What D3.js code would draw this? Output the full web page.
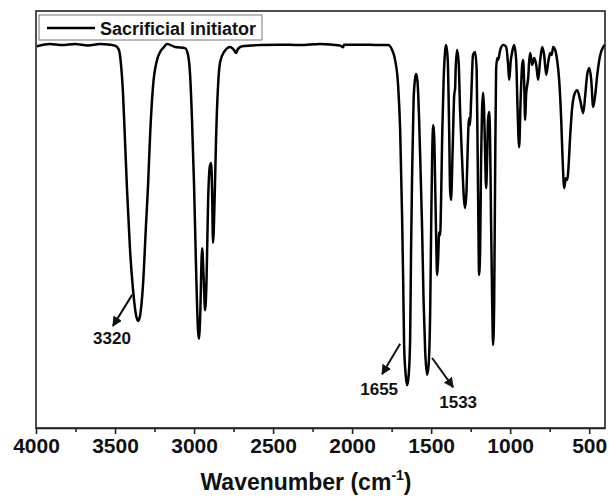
<!DOCTYPE html>
<html>
  <head>
    <meta charset="utf-8">
    <title>Sacrificial initiator FTIR</title>
    <script src="https://cdn.jsdelivr.net/npm/d3@7/dist/d3.min.js"></script>
    <style>
      body { margin: 0; background: #fff; }
      svg { display: block; font-family: "Liberation Sans", Arial, sans-serif; font-weight: bold; }
    </style>
  </head>
  <body>
    <svg id="chart" width="610" height="497"></svg>

    <script>
      // data (wavenumber cm-1, transmittance a.u.)
      const wavenumber = [3994, 3911, 3835, 3753, 3671, 3595, 3532, 3494, 3475, 3462, 3449, 3437, 3424, 3405, 3386, 3367, 3354, 3342, 3323, 3304, 3291, 3278, 3259, 3234, 3215, 3190, 3171, 3120, 3057, 3038, 3025, 3013, 3000, 2987, 2975, 2968, 2962, 2949, 2940, 2930, 2921, 2911, 2899, 2892, 2886, 2880, 2870, 2861, 2848, 2835, 2810, 2772, 2747, 2734, 2722, 2696, 2582, 2456, 2329, 2203, 2076, 2057, 2051, 1949, 1823, 1772, 1747, 1728, 1709, 1696, 1684, 1677, 1671, 1661, 1652, 1642, 1633, 1627, 1620, 1611, 1601, 1595, 1586, 1576, 1567, 1557, 1548, 1538, 1526, 1516, 1506, 1500, 1494, 1487, 1481, 1475, 1468, 1462, 1456, 1449, 1443, 1437, 1430, 1421, 1411, 1405, 1395, 1386, 1380, 1374, 1364, 1354, 1348, 1345, 1336, 1326, 1317, 1304, 1292, 1285, 1276, 1269, 1260, 1254, 1247, 1235, 1222, 1212, 1206, 1200, 1197, 1190, 1184, 1178, 1171, 1165, 1159, 1152, 1146, 1140, 1133, 1127, 1121, 1114, 1108, 1101, 1095, 1089, 1082, 1076, 1063, 1044, 1025, 1013, 1006, 997, 987, 975, 962, 953, 943, 934, 924, 918, 911, 905, 899, 892, 886, 880, 873, 861, 848, 835, 823, 810, 797, 785, 772, 759, 747, 737, 728, 715, 703, 690, 677, 668, 658, 649, 639, 633, 620, 608, 595, 576, 557, 538, 525, 513, 500, 487, 475, 462, 449, 430, 411, 400];
      const transmittance = [99.8, 100.4, 100.1, 100.4, 100.0, 100.4, 100.2, 99.8, 98.8, 94.9, 87.0, 75.3, 62.2, 46.5, 36.1, 29.5, 28.0, 29.3, 37.4, 53.1, 63.5, 76.6, 89.6, 96.2, 98.3, 99.6, 100.4, 99.6, 99.3, 97.5, 92.3, 80.5, 63.5, 41.3, 25.6, 23.3, 28.2, 47.0, 40.0, 30.8, 38.7, 59.6, 68.7, 69.3, 62.2, 48.4, 59.6, 75.3, 89.6, 95.7, 98.3, 99.6, 98.8, 98.0, 99.1, 99.8, 100.1, 100.2, 100.1, 100.4, 100.0, 99.5, 100.2, 100.2, 100.1, 100.1, 98.8, 96.2, 89.6, 77.9, 55.7, 38.7, 21.7, 13.9, 11.2, 13.9, 23.0, 46.5, 67.4, 85.7, 91.5, 92.5, 90.4, 80.5, 67.4, 51.8, 33.5, 20.4, 13.9, 16.5, 30.8, 51.8, 70.0, 79.2, 76.6, 64.8, 49.1, 40.0, 43.9, 51.2, 50.4, 59.6, 76.6, 91.0, 98.8, 100.1, 96.2, 77.9, 62.2, 59.6, 72.7, 87.0, 88.9, 93.6, 98.8, 95.7, 83.1, 70.0, 59.6, 57.5, 62.2, 72.7, 81.0, 79.2, 85.7, 97.5, 98.3, 93.6, 72.7, 49.1, 40.0, 46.5, 70.0, 83.1, 87.6, 83.1, 72.7, 62.7, 70.0, 80.5, 82.6, 75.3, 54.4, 33.5, 21.7, 33.5, 67.4, 93.6, 96.7, 96.2, 98.8, 100.1, 99.6, 94.9, 91.0, 95.7, 98.3, 100.1, 96.2, 83.1, 73.4, 85.7, 94.9, 96.2, 89.6, 80.5, 87.3, 89.6, 91.5, 95.7, 98.0, 94.9, 96.7, 94.9, 91.0, 96.2, 99.6, 97.5, 92.3, 95.7, 98.0, 97.5, 99.6, 98.8, 96.2, 91.0, 80.5, 70.0, 62.7, 65.3, 64.8, 66.9, 76.6, 83.6, 87.0, 88.3, 85.7, 82.3, 87.0, 92.3, 94.1, 91.0, 83.9, 87.0, 92.3, 97.5, 99.6, 100.1];

      // axis ticks
      const majorTicks = [4000, 3500, 3000, 2500, 2000, 1500, 1000, 500];
      const minorTicks = [3750, 3250, 2750, 2250, 1750, 1250, 750];

      // peak labels: text, arrow tail, arrow tip, text position
      const peakLabels = ["3320", "1655", "1533"];
      const arrowFrom = [[3392, 34.8], [1696, 22.0], [1494, 18.3]];
      const arrowTo = [[3513, 26.7], [1810, 14.1], [1361, 10.7]];
      const labelAt = [[3519, 22.0], [1829, 8.6], [1329, 5.2]];

      const seriesName = "Sacrificial initiator";

      // layout
      const svg = d3.select("#chart");
      const m = { left: 36, right: 605, top: 11, bottom: 428 };

      const x = d3.scaleLinear().domain([4000, 400]).range([m.left, m.right]);
      const y = d3.scaleLinear().domain([0, 109]).range([m.bottom, m.top]);

      svg.append("defs")
        .append("marker")
          .attr("id", "head")
          .attr("viewBox", "0 0 10 10")
          .attr("refX", 9)
          .attr("refY", 5)
          .attr("markerWidth", 5)
          .attr("markerHeight", 5)
          .attr("orient", "auto")
          .append("path")
            .attr("d", "M0,0 L10,5 L0,10 Z")
            .style("fill", "#111");

      // spectrum
      const points = wavenumber.map((w, i) => [w, transmittance[i]]);
      svg.append("path")
        .datum(points)
        .attr("d", d3.line()
          .x(d => x(d[0]))
          .y(d => y(d[1]))
          .curve(d3.curveMonotoneX))
        .style("fill", "none")
        .style("stroke", "#000")
        .style("stroke-width", 2.5)
        .style("stroke-linejoin", "round");

      // frame
      svg.append("rect")
        .attr("x", m.left)
        .attr("y", m.top)
        .attr("width", m.right - m.left)
        .attr("height", m.bottom - m.top)
        .style("fill", "none")
        .style("stroke", "#222")
        .style("stroke-width", 1.6);

      // x axis
      const xAxis = svg.append("g")
        .attr("transform", "translate(0," + m.bottom + ")")
        .call(d3.axisBottom(x).tickValues(majorTicks).tickFormat(d3.format("d"))
          .tickSize(6).tickSizeOuter(0).tickPadding(4));
      xAxis.select(".domain").style("stroke", "#222").style("stroke-width", 1.6);
      xAxis.selectAll(".tick line").style("stroke", "#222").style("stroke-width", 1.6);
      xAxis.selectAll("text")
        .style("font-family", "'Liberation Sans', Arial, sans-serif")
        .style("font-weight", "bold")
        .style("font-size", "21px")
        .style("fill", "#111");

      svg.append("g")
        .attr("transform", "translate(0," + m.bottom + ")")
        .call(d3.axisBottom(x).tickValues(minorTicks).tickSize(4).tickFormat(""))
        .call(g => g.select(".domain").remove())
        .selectAll(".tick line").style("stroke", "#222").style("stroke-width", 1.6);

      // axis title
      const title = svg.append("text")
        .attr("x", 306)
        .attr("y", 490)
        .attr("text-anchor", "middle")
        .style("font-size", "23px")
        .style("fill", "#111");
      title.append("tspan").text("Wavenumber (cm");
      title.append("tspan").text("-1").attr("dy", -10).style("font-size", "14px");
      title.append("tspan").text(")").attr("dy", 10);

      // peak annotations
      peakLabels.forEach((label, i) => {
        svg.append("line")
          .attr("x1", x(arrowFrom[i][0]))
          .attr("y1", y(arrowFrom[i][1]))
          .attr("x2", x(arrowTo[i][0]))
          .attr("y2", y(arrowTo[i][1]))
          .style("stroke", "#111")
          .style("stroke-width", 2)
          .attr("marker-end", "url(#head)");
        svg.append("text")
          .attr("x", x(labelAt[i][0]))
          .attr("y", y(labelAt[i][1]))
          .attr("text-anchor", "middle")
          .style("font-size", "17px")
          .style("fill", "#111")
          .text(label);
      });

      // legend
      const legend = svg.append("g");
      legend.append("rect")
        .attr("x", 39)
        .attr("y", 15)
        .attr("width", 223)
        .attr("height", 25)
        .style("fill", "#fff")
        .style("stroke", "#777")
        .style("stroke-width", 1);
      legend.append("line")
        .attr("x1", 47)
        .attr("x2", 95)
        .attr("y1", 28)
        .attr("y2", 28)
        .style("stroke", "#000")
        .style("stroke-width", 2.5);
      legend.append("text")
        .attr("x", 100)
        .attr("y", 34.5)
        .style("font-size", "18px")
        .style("fill", "#111")
        .text(seriesName);
    </script>
  </body>
</html>
